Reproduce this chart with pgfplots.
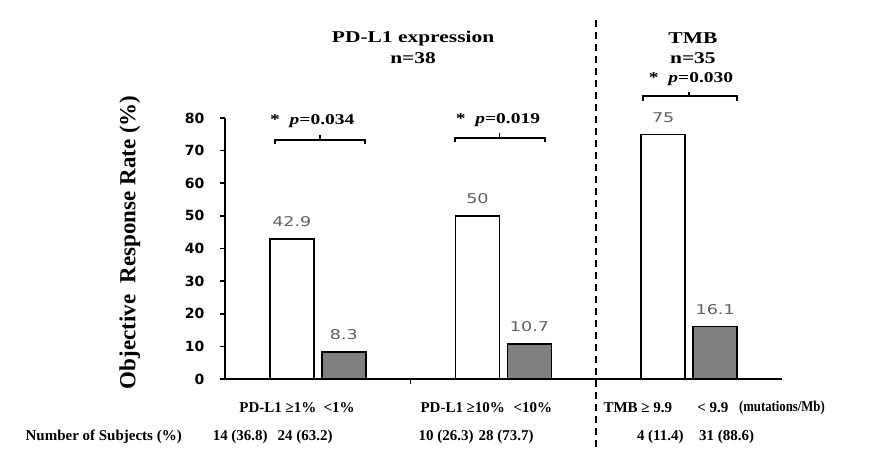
\documentclass[border=0pt]{standalone}
\usepackage{fontspec}
\usepackage{pgfplots}
\pgfplotsset{compat=1.18}
\setmainfont{Liberation Serif}
\newfontfamily\valfont[FakeStretch=1.3]{DejaVu Sans}
\newfontfamily\tickfont{DejaVu Sans}
\newfontfamily\widefont[FakeStretch=1.3]{Liberation Serif}
\newfontfamily\condfont[FakeStretch=0.85]{Liberation Serif}
\newcommand\lab{\bfseries\fontsize{15}{18}\selectfont}
\newcommand\plab{\widefont\bfseries\fontsize{15}{18}\selectfont}
\newcommand\head{\widefont\bfseries\fontsize{16.5}{20}\selectfont}

\begin{document}
\begin{tikzpicture}
\begin{axis}[
    at={(0pt,0pt)}, anchor=south west,
    scale only axis, width=557pt, height=261pt,
    xmin=0, xmax=3, ymin=0, ymax=80,
    axis lines*=left,
    axis line style={line width=1.6pt},
    xtick={1,2}, xticklabels={},
    ytick={0,10,...,80},
    tick align=outside, major tick length=5pt,
    tick style={line width=1.6pt, black},
    yticklabel style={font=\tickfont\bfseries\fontsize{14}{16}\selectfont, xshift=-12pt},
    /pgf/number format/assume math mode=true,
    ybar=8pt, bar width=44pt,
    clip=false,
    nodes near coords,
    every node near coord/.append style={font=\valfont\fontsize{13.5}{16}\selectfont, text=black!62, yshift=8pt},
]
\addplot[fill=white, draw=black, line width=1.5pt] coordinates {(0.5,42.9) (1.5,50) (2.5,75)};
\addplot[fill=black!50, draw=black, line width=1.5pt] coordinates {(0.5,8.3) (1.5,10.7) (2.5,16.1)};

% titles
\node[font=\head] at (axis cs:1.013,104.4) {PD-L1 expression};
\node[font=\head] at (axis cs:1.013,98.4) {n=38};
\node[font=\head] at (axis cs:2.52,104.4) {TMB};
\node[font=\head] at (axis cs:2.52,98.4) {n=35};

% significance brackets
\node[font=\plab] at (axis cs:0.47,79.1) {*\ \ \textit{p}=0.034};
\draw[line width=1.4pt] (axis cs:0.269,71.9) -- (axis cs:0.269,73.3) -- (axis cs:0.754,73.3) -- (axis cs:0.754,71.9);
\draw[line width=1.4pt] (axis cs:0.512,73.3) -- (axis cs:0.512,74.7);
\node[font=\plab] at (axis cs:1.47,79.4) {*\ \ \textit{p}=0.019};
\draw[line width=1.4pt] (axis cs:1.239,72.5) -- (axis cs:1.239,73.9) -- (axis cs:1.723,73.9) -- (axis cs:1.723,72.5);
\draw[line width=1.4pt] (axis cs:1.48,73.9) -- (axis cs:1.48,75.3);
\node[font=\plab] at (axis cs:2.51,91.9) {*\ \ \textit{p}=0.030};
\draw[line width=1.4pt] (axis cs:2.251,85.3) -- (axis cs:2.251,86.7) -- (axis cs:2.758,86.7) -- (axis cs:2.758,85.3);
\draw[line width=1.4pt] (axis cs:2.50,86.7) -- (axis cs:2.50,88.1);

% divider
\draw[line width=1.8pt, dash pattern=on 7pt off 5pt] (axis cs:2,110) -- (axis cs:2,-21.5);

% y label
\node[font=\bfseries\fontsize{23}{26}\selectfont, rotate=90] at (axis cs:-0.512,41.9) {Objective\ \ Response Rate (\%)};

% category labels
\node[font=\lab, anchor=west] at (axis cs:0.059,-8.9) {PD-L1 ≥1\%};
\node[font=\lab, anchor=west] at (axis cs:0.512,-8.9) {<1\%};
\node[font=\lab, anchor=west] at (axis cs:1.034,-8.9) {PD-L1 ≥10\%};
\node[font=\lab, anchor=west] at (axis cs:1.535,-8.9) {<10\%};
\node[font=\lab, anchor=west] at (axis cs:2.020,-8.9) {TMB ≥ 9.9};
\node[font=\lab, anchor=west] at (axis cs:2.525,-8.9) {< 9.9};
\node[font=\condfont\bfseries\fontsize{15}{18}\selectfont, anchor=west] at (axis cs:2.75,-8.9) {(mutations/Mb)};

% subject counts
\node[font=\lab, anchor=west] at (axis cs:-1.093,-17.8) {Number of Subjects (\%)};
\node[font=\lab, anchor=west] at (axis cs:-0.085,-17.8) {14 (36.8)};
\node[font=\lab, anchor=west] at (axis cs:0.265,-17.8) {24 (63.2)};
\node[font=\lab, anchor=west] at (axis cs:1.024,-17.8) {10 (26.3)};
\node[font=\lab, anchor=west] at (axis cs:1.347,-17.8) {28 (73.7)};
\node[font=\lab, anchor=west] at (axis cs:2.200,-17.8) {4 (11.4)};
\node[font=\lab, anchor=west] at (axis cs:2.535,-17.8) {31 (88.6)};
\end{axis}
\pgfresetboundingbox
\useasboundingbox (-225pt,-70pt) rectangle (665pt,379pt);
\end{tikzpicture}
\end{document}
